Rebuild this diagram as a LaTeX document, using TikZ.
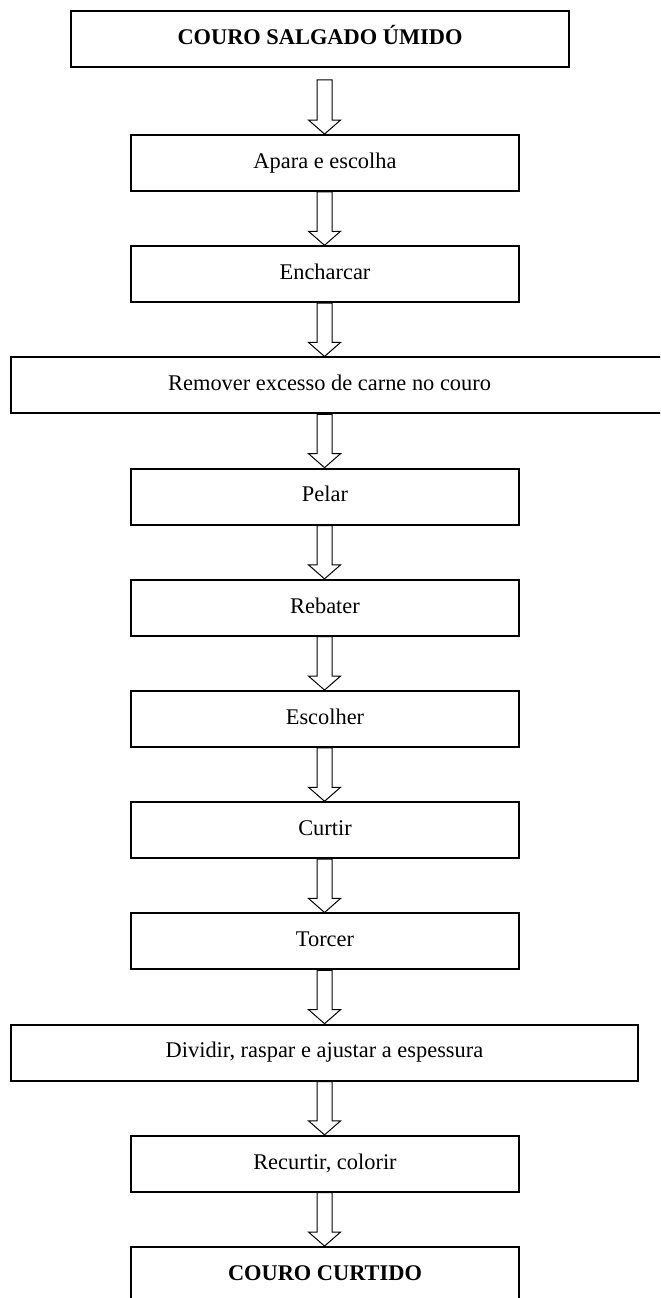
\documentclass[tikz,border=0pt]{standalone}
\usepackage{fontspec}
\setmainfont{Liberation Serif}
\usetikzlibrary{calc}
\newcommand\flowarrow[3]{% #1 from node, #2 to node, #3 start offset (pt)
  \draw[barrow] let \p1=(#1.south), \p2=(#2.north) in
    (243.4pt-5.625pt,\y1-#3) -- (243.4pt-5.625pt,\y2+10.5pt) -- (243.4pt-12pt,\y2+10.5pt)
    -- (243.4pt,\y2) -- (243.4pt+12pt,\y2+10.5pt) -- (243.4pt+5.625pt,\y2+10.5pt)
    -- (243.4pt+5.625pt,\y1-#3) -- cycle;
}
\begin{document}
\begin{tikzpicture}[x=0.75pt,y=-0.75pt,
  box/.style={draw, line width=1.4pt, inner sep=0pt, minimum height=42pt,
    font=\fontsize{16.8}{20}\selectfont, text height=11.5pt, text depth=3.7pt},
  stdbox/.style={box, minimum width=291pt},
  txt/.style={inner sep=0pt, font=\fontsize{16.8}{20}\selectfont, text height=11.5pt, text depth=3.7pt},
  barrow/.style={draw, line width=0.75pt, line join=miter}]
\useasboundingbox (0,0) rectangle (660,1298);
\clip (0,0) rectangle (660,1298);
\fill[white] (0,0) rectangle (660,1298);

\node[box, minimum width=373.5pt, font=\bfseries\fontsize{16.8}{20}\selectfont] (n0) at (320,39) {COURO SALGADO ÚMIDO};
\node[stdbox] (n1) at (325,163) {Apara e escolha};
\node[stdbox] (n2) at (325,274.2) {Encharcar};
\node[box, minimum width=492.75pt] (n3) at (339.5,385.4) {};
\node[txt] (n3t) at (329.6,385.4) {Remover excesso de carne no couro};
\node[stdbox] (n4) at (325,496.6) {Pelar};
\node[stdbox] (n5) at (325,607.8) {Rebater};
\node[stdbox] (n6) at (325,719) {Escolher};
\node[stdbox] (n7) at (325,830.2) {Curtir};
\node[stdbox] (n8) at (325,941.4) {Torcer};
\node[box, minimum width=470.25pt] (n9) at (324.5,1052.6) {Dividir, raspar e ajustar a espessura};
\node[stdbox] (n10) at (325,1163.8) {Recurtir, colorir};
\node[stdbox, font=\bfseries\fontsize{16.8}{20}\selectfont] (n11) at (325,1275) {COURO CURTIDO};

\flowarrow{n0}{n1}{9pt}
\flowarrow{n1}{n2}{0pt}
\flowarrow{n2}{n3}{0pt}
\flowarrow{n3}{n4}{0pt}
\flowarrow{n4}{n5}{0pt}
\flowarrow{n5}{n6}{0pt}
\flowarrow{n6}{n7}{0pt}
\flowarrow{n7}{n8}{0pt}
\flowarrow{n8}{n9}{0pt}
\flowarrow{n9}{n10}{0pt}
\flowarrow{n10}{n11}{0pt}
\end{tikzpicture}
\end{document}
